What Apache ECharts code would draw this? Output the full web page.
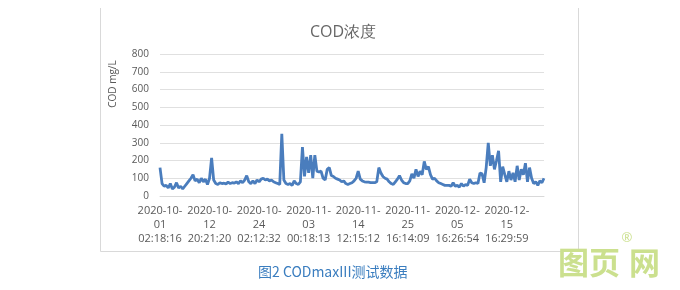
<!DOCTYPE html>
<html>
<head>
<meta charset="utf-8">
<script src="https://cdn.jsdelivr.net/npm/echarts@6/dist/echarts.min.js"></script>
<style>html,body{margin:0;padding:0;background:#fff}#c{width:680px;height:290px}</style>
</head>
<body>
<div id="c"></div>
<script>
var chartTitle = 'COD浓度';
var yAxisName = 'COD mg/L';
var caption = '图2 CODmaxIII测试数据';
var tickLabels = ['2020-10-01 02:18:16','2020-10-12 20:21:20','2020-10-24 02:12:32','2020-11-03 00:18:13','2020-11-14 12:15:12','2020-11-25 16:14:09','2020-12-05 16:26:54','2020-12-15 16:29:59'];
var pointsPerLabel = 24;
var yTicks = [0, 800, 100];
var codValues = [
  160,70,55,60,45,70,40,50,75,45,
  55,40,55,70,85,100,120,85,95,75,
  100,80,95,65,100,215,90,70,65,75,
  70,72,68,78,70,75,72,80,70,85,
  75,90,115,80,70,85,70,90,80,95,
  100,90,95,85,90,80,75,70,65,350,
  90,70,65,70,60,85,70,65,80,275,
  110,220,130,230,100,230,140,135,140,100,
  90,150,160,115,110,100,95,90,80,85,
  70,65,70,75,85,100,140,95,85,80,
  78,78,75,75,75,80,160,130,110,100,
  95,80,70,65,80,95,115,90,75,70,
  70,85,125,100,150,110,140,120,195,150,
  165,120,95,100,85,75,70,65,60,60,
  60,55,75,55,60,50,70,55,65,60,
  95,75,70,75,70,130,125,75,160,300,
  170,230,150,200,255,80,165,120,80,140,
  90,130,80,170,90,150,120,185,80,160,
  100,70,80,60,85,75,100
];

var data = codValues.map(function (v, i) { return [i, v]; });
var font = 'Open Sans';
var chart = echarts.init(document.getElementById('c'), null, {renderer: 'canvas'});
chart.setOption({
  animation: false,
  backgroundColor: '#fff',
  grid: {left: 160, right: 136, top: 54, bottom: 94},
  title: {
    text: chartTitle, left: 338, top: 19, textAlign: 'center',
    textStyle: {fontFamily: font, fontSize: 16, fontWeight: 'normal', color: '#666666'}
  },
  xAxis: {
    type: 'value', min: 0, max: codValues.length - 1, interval: pointsPerLabel,
    axisLine: {show: true, lineStyle: {color: '#d9d9d9', width: 1}},
    axisTick: {show: false},
    splitLine: {show: false},
    axisLabel: {
      margin: 8, color: '#595959', fontFamily: font, fontSize: 11, lineHeight: 14,
      showMaxLabel: false,
      formatter: function (v) {
        if (v % pointsPerLabel !== 0) return '';
        var s = tickLabels[v / pointsPerLabel];
        if (!s) return '';
        var p = s.split(' ');
        var d = p[0];
        return d.slice(0, 8) + '\n' + d.slice(8) + '\n' + p[1];
      }
    }
  },
  yAxis: {
    type: 'value', min: yTicks[0], max: yTicks[1], interval: yTicks[2],
    axisLine: {show: false}, axisTick: {show: false},
    splitLine: {lineStyle: {color: '#e0e0e0', width: 1}},
    axisLabel: {margin: 11, color: '#595959', fontFamily: font, fontSize: 10}
  },
  series: [{
    type: 'line', data: data, showSymbol: false, symbol: 'none',
    lineStyle: {color: '#4a7dbd', width: 2.8},
    itemStyle: {color: '#4a7dbd'}
  }],
  graphic: [
    {type: 'polyline', shape: {points: [[100.5, 8], [100.5, 251.5], [578.5, 251.5], [578.5, 8]]}, style: {fill: null, stroke: '#d9d9d9', lineWidth: 1}, silent: true},
    {type: 'text', x: 113, y: 84, rotation: Math.PI / 2, style: {text: yAxisName, fill: '#595959', font: '10px "Open Sans"', textAlign: 'center', textVerticalAlign: 'middle'}},
    {type: 'text', x: 258, y: 272, style: {text: caption, fill: '#3a7dbf', font: '14px "Noto Sans CJK SC"', textAlign: 'left', textVerticalAlign: 'middle'}},
    {type: 'text', x: 558, y: 262, style: {text: '图页', fill: '#cbe08e', font: 'bold 31px "Noto Sans CJK SC"', textAlign: 'left', textVerticalAlign: 'middle'}},
    {type: 'text', x: 629, y: 262, style: {text: '网', fill: '#cbe08e', font: 'bold 31px "Noto Sans CJK SC"', textAlign: 'left', textVerticalAlign: 'middle'}},
    {type: 'text', x: 627, y: 238, style: {text: '®', fill: '#cbe08e', font: '13px "Open Sans"', textAlign: 'center', textVerticalAlign: 'middle'}}
  ]
});
</script>
</body>
</html>
